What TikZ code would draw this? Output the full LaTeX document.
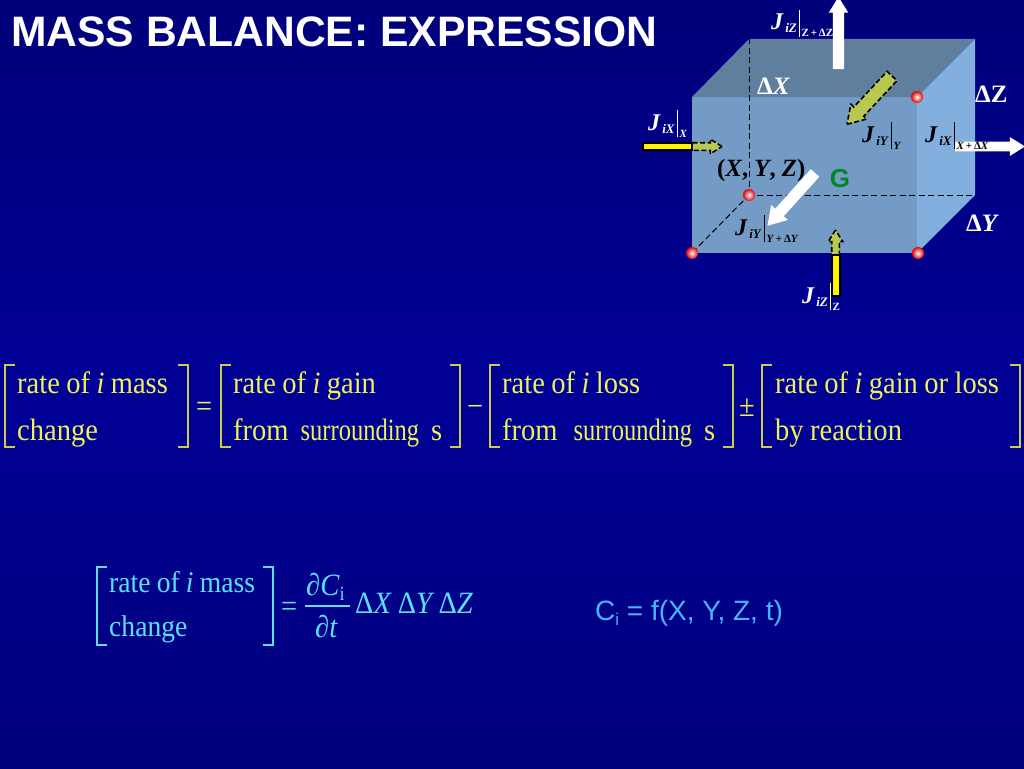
\documentclass[tikz,border=0pt]{standalone}
\usepackage{fontspec}
\setmainfont{Liberation Serif}
\setsansfont{Liberation Sans}
\newfontfamily\eqfont[FakeStretch=0.92,WordSpace=0.9]{Liberation Serif}
\usetikzlibrary{shapes.arrows}
\definecolor{bgtop}{RGB}{0,0,122}
\definecolor{bgmid}{RGB}{0,0,150}
\definecolor{bgbot}{RGB}{0,0,125}
\definecolor{frontface}{RGB}{115,155,197}
\definecolor{topface}{RGB}{96,126,158}
\definecolor{sideface}{RGB}{130,175,222}
\definecolor{eqyellow}{RGB}{240,240,90}
\definecolor{eqcyan}{RGB}{90,225,250}
\definecolor{fluxgreen}{RGB}{184,200,80}
\definecolor{gengreen}{RGB}{0,135,40}
\newcommand{\fsz}[1]{\fontsize{#1}{#1}\selectfont}
\newcommand{\fluxlabel}[2]{\fsz{24}\textbf{\textit{J}}\hspace{1.5pt}\raisebox{-3pt}{\fsz{13}\textbf{\textit{#1}}}\hspace{2pt}\rule[-7pt]{0.7pt}{27pt}\hspace{2pt}\raisebox{-7pt}{\fsz{11}\textbf{#2}}}
\newcommand{\fromsurr}[1]{from\hspace{#1}\scalebox{.86}[1]{surrounding}\hspace{12pt}s}
\tikzset{
  txt/.style={inner sep=0pt,anchor=base west},
  dim/.style={txt,white,font=\fsz{25}\bfseries},
  eqrow/.style={txt,eqyellow,font=\fsz{31}\eqfont},
  eqrowb/.style={txt,eqcyan,font=\fsz{31}\eqfont},
  brk/.style={line width=1.3pt,eqyellow!85!black},
  brkb/.style={line width=1.3pt,eqcyan},
  flux/.style 2 args={single arrow,inner sep=0pt,outer sep=0pt,anchor=tail,text height=#1,text depth=0pt,single arrow head extend=#2,single arrow tip angle=64},
  whitearrow/.style 2 args={flux={#1}{#2},fill=white},
  greenarrow/.style 2 args={flux={#1}{#2},fill=fluxgreen,draw=black,line width=1.6pt,dash pattern=on 5pt off 2.5pt},
  yellowbar/.style={fill=yellow,draw=black,line width=1.6pt},
  corner/.style={circle,inner sep=0pt,minimum size=12pt,inner color=white,outer color=red!90!black},
  hidden/.style={dash pattern=on 6pt off 3.5pt,line width=1pt,shorten <=2pt}
}
\begin{document}
\begin{tikzpicture}[x=1pt,y=-1pt]
\useasboundingbox (0,0) rectangle (1024,768);
\shade[top color=bgtop,bottom color=bgbot,middle color=bgmid] (0,0) rectangle (1024,768);

\node[txt,white,font=\fsz{42.6}\sffamily\bfseries] (title) at (11,47) {MASS BALANCE: EXPRESSION};

\fill[frontface] (692,97) rectangle (917,253);
\fill[topface] (692,97) -- (749,39) -- (975,39) -- (917,97) -- cycle;
\fill[sideface] (917,97) -- (975,39) -- (975,195) -- (917,253) -- cycle;

\node[corner] (cback) at (749,195) {};
\node[corner] (cright) at (917,97) {};
\node[corner] (cleft) at (692,253) {};
\node[corner] (cfront) at (918,253) {};
\coordinate (backtop) at (749,39);
\coordinate (backside) at (975,195);
\draw[hidden] (cback) -- (backtop);
\draw[hidden] (cback) -- (backside);
\draw[hidden] (cback) -- (cleft);

\node[whitearrow={11pt}{4pt},minimum height=72pt,rotate=90] (outz) at (838.5,69) {};
\node[whitearrow={9.5pt}{4.5pt},minimum height=70pt,rotate=0] (outx) at (955,146.5) {};
\node[whitearrow={11pt}{5.5pt},minimum height=71pt,rotate=228] (outy) at (815,173) {};
\node[greenarrow={12pt}{4pt},minimum height=66pt,rotate=227] (iny) at (892,76) {};
\node[greenarrow={6pt}{3.5pt},minimum height=30pt,rotate=0] (inx) at (692,146.5) {};
\node[greenarrow={6pt}{3.5pt},minimum height=25pt,rotate=90] (inz) at (835.5,255) {};
\draw[yellowbar] (643,143) rectangle (692,150);
\draw[yellowbar] (832,255) rectangle (840,296);

\node[txt,white] (jztop) at (771,30) {\fluxlabel{iZ}{Z\,+\,ΔZ}};
\node[txt,white] (jxin) at (648,130) {\fluxlabel{iX}{\textit{X}}};
\node[txt] (jyin) at (862,142) {\fluxlabel{iY}{\textit{Y}}};
\node[txt] (jxout) at (925,142) {\fluxlabel{iX}{\textit{X}\,+\,Δ\textit{X}}};
\node[txt] (jyout) at (735,235) {\fluxlabel{iY}{\textit{Y}\,+\,Δ\textit{Y}}};
\node[txt,white] (jzin) at (802,303) {\fluxlabel{iZ}{Z}};

\node[dim] (dx) at (757,94) {Δ\textit{X}};
\node[dim] (dz) at (975,102) {ΔZ};
\node[dim] (dy) at (966,231) {Δ\textit{Y}};
\node[txt,font=\fsz{24.8}\bfseries] (point) at (717,176) {(\textit{X}, \textit{Y}, \textit{Z})};
\node[gengreen,font=\fsz{26}\sffamily\bfseries] (gen) at (840,179) {G};

\foreach \x in {15,231,500,772} \draw[brk] (\x,365) -- ++(-10,0) -- ++(0,82) -- ++(10,0);
\foreach \x in {178,450,723,1010} \draw[brk] (\x,365) -- ++(10,0) -- ++(0,82) -- ++(-10,0);

\node[eqrow] (a1) at (17,393) {rate of \textit{i} mass};
\node[eqrow] (a2) at (17,440) {change};
\node[eqrow] (eq1) at (196,416) {=};
\node[eqrow] (b1) at (233,393) {rate of \textit{i} gain};
\node[eqrow] (b2) at (233,440) {\fromsurr{12pt}};
\node[eqrow] (minus) at (467,416) {−};
\node[eqrow] (c1) at (502,393) {rate of \textit{i} loss};
\node[eqrow] (c2) at (502,440) {\fromsurr{16pt}};
\node[eqrow] (pm) at (739,416) {±};
\node[eqrow] (d1) at (775,393) {rate of \textit{i} gain or loss};
\node[eqrow] (d2) at (775,440) {by reaction};

\draw[brkb] (107,567) -- ++(-10,0) -- ++(0,78) -- ++(10,0);
\draw[brkb] (263,567) -- ++(10,0) -- ++(0,78) -- ++(-10,0);
\node[eqrowb,font=\fsz{30}\eqfont] (m1) at (109,592) {rate of \textit{i} mass};
\node[eqrowb,font=\fsz{30}\eqfont] (m2) at (109,636) {change};
\node[eqrowb] (eq2) at (281,616) {=};
\node[eqrowb] (num) at (306,595) {\textit{∂C}\raisebox{-5pt}{\fsz{20}i}};
\node[eqrowb] (den) at (315,637) {\textit{∂t}};
\draw[brkb] (305,606) -- (350,606);
\node[eqrowb] (vol) at (355,613) {Δ\textit{X}\hspace{6pt}Δ\textit{Y}\hspace{4pt}Δ\textit{Z}};
\node[txt,eqcyan!80!blue,font=\fsz{28}\sffamily] (conc) at (595,620) {C\raisebox{-5pt}{\fsz{17}i} = f(X, Y, Z, t)};
\end{tikzpicture}
\end{document}
